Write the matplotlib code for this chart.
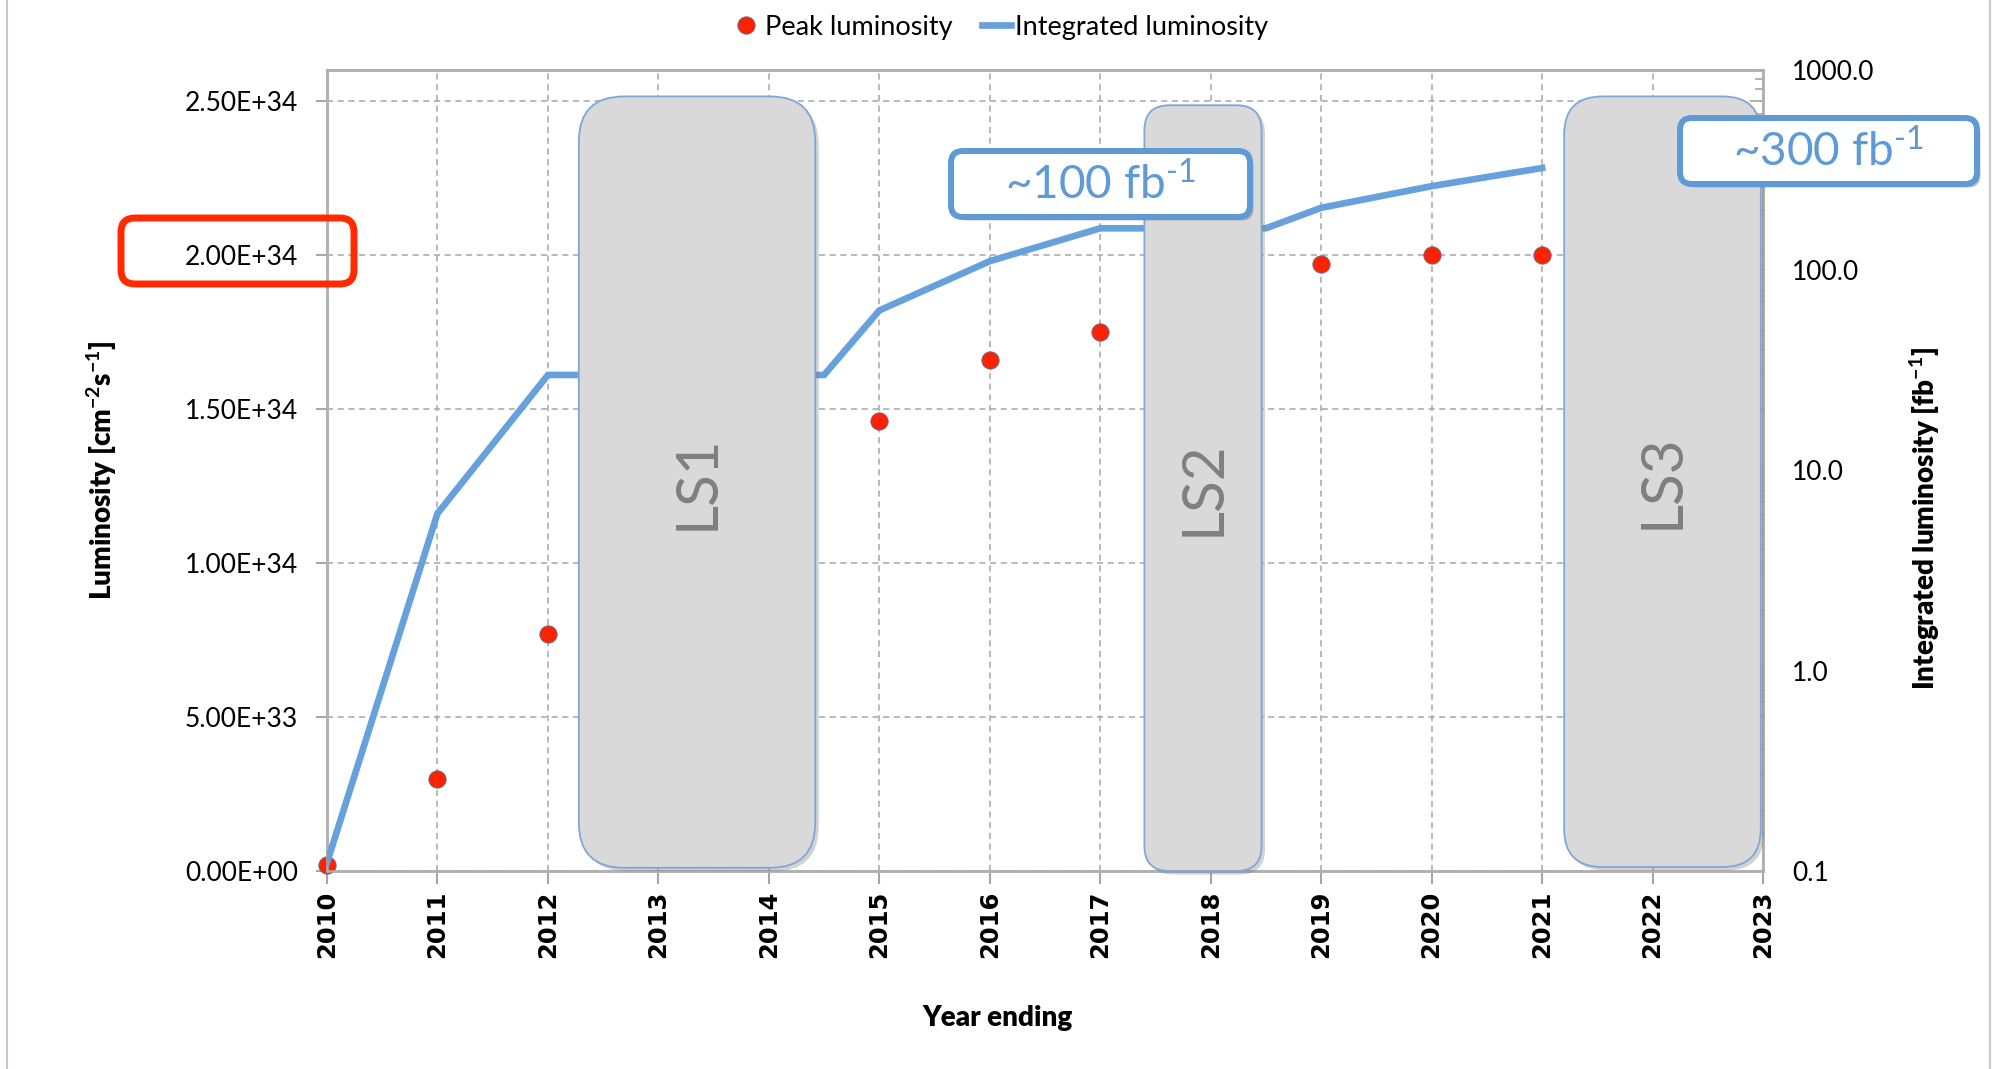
import matplotlib
matplotlib.use("Agg")
import matplotlib.pyplot as plt
from matplotlib.patches import FancyBboxPatch
from matplotlib.lines import Line2D
from matplotlib.transforms import IdentityTransform
from matplotlib.ticker import FixedLocator, FuncFormatter, LogLocator, NullFormatter
import matplotlib.patheffects as pe

# ---------------------------------------------------------------- data
# Peak luminosity reached by the end of each year [cm^-2 s^-1]
peak_years = [2010, 2011, 2012, 2015, 2016, 2017, 2019, 2020, 2021]
peak_lumi = [2.1e32, 3.0e33, 7.7e33, 1.46e34, 1.66e34, 1.75e34, 1.97e34, 2.0e34, 2.0e34]

# Cumulative integrated luminosity [fb^-1]
int_years = [2010, 2011, 2012, 2014.5, 2015, 2016, 2017, 2018.5, 2019, 2020, 2021]
int_lumi = [0.11, 6.1, 30, 30, 63, 111, 162, 162, 205, 263, 324]

# Long shutdown periods (fractional years)
shutdown_names = ["LS1", "LS2", "LS3"]
shutdown_start = [2012.28, 2017.40, 2021.20]
shutdown_end = [2014.42, 2018.46, 2022.98]

year_ticks = list(range(2010, 2024))
left_ticks = [0, 5e33, 1e34, 1.5e34, 2e34, 2.5e34]
right_ticks = [0.1, 1, 10, 100, 1000]

callout_texts = [r"~100 fb$^{\text{-1}}$", r"~300 fb$^{\text{-1}}$"]

# ---------------------------------------------------------------- style
W, H = 1993, 1069
DPI = 100
FONT = "Lato"
GRAY = "#a6a6a6"
BLUE = "#67a1dc"
RED = "#ff2200"
CALLOUT = "#5d9ad6"

plt.rcParams["font.family"] = [FONT, "DejaVu Sans"]
plt.rcParams["mathtext.fontset"] = "custom"
plt.rcParams["mathtext.rm"] = FONT
plt.rcParams["mathtext.it"] = FONT + ":italic"
plt.rcParams["mathtext.bf"] = FONT + ":bold"

fig = plt.figure(figsize=(W / DPI, H / DPI), dpi=DPI)
ax = fig.add_axes([327 / W, 1 - 871 / H, 1436 / W, 801 / H])
ax2 = ax.twinx()

# ---------------------------------------------------------------- left axis: peak luminosity
ax.plot(peak_years, peak_lumi, ls="none", marker="o", ms=12.5,
        mfc=RED, mec="#5a6e9a", mew=0.6, zorder=5, clip_on=False)
ax.set_xlim(2010, 2023)
ax.set_ylim(0, 2.6e34)
ax.xaxis.set_major_locator(FixedLocator(year_ticks))
ax.set_xticklabels([str(y) for y in year_ticks], rotation=90,
                   fontfamily="DejaVu Sans", fontweight="bold", fontsize=17.5)
ax.yaxis.set_major_locator(FixedLocator(left_ticks))
ax.yaxis.set_major_formatter(FuncFormatter(lambda v, p: f"{v:.2E}"))
ax.tick_params(axis="y", direction="out", length=8, width=1.5, color=GRAY,
               pad=13, labelsize=19)
ax.tick_params(axis="x", direction="out", length=9, width=1.5, color=GRAY, pad=5)
ax.grid(True, color=GRAY, linestyle=(0, (4, 3)), linewidth=1.1)
for s in ax.spines.values():
    s.set_color("#b0b0b0")
    s.set_linewidth(1.8)

ax.set_ylabel(r"Luminosity [cm$^{\mathbf{-2}}$s$^{\mathbf{-1}}$]",
              fontsize=20, fontweight="heavy")
ax.yaxis.set_label_coords(-0.1445, 0.5)
ax.set_xlabel("Year ending", fontsize=20, fontweight="heavy")
ax.xaxis.set_label_coords(0.467, -0.167)

# ---------------------------------------------------------------- right axis: integrated luminosity
ax2.plot(int_years, int_lumi, color=BLUE, lw=4.8, solid_joinstyle="miter", zorder=3)
ax2.set_yscale("log")
ax2.set_ylim(0.1, 1000)
ax2.yaxis.set_major_locator(FixedLocator(right_ticks))
ax2.yaxis.set_major_formatter(FuncFormatter(lambda v, p: f"{v:.1f}"))
ax2.yaxis.set_minor_locator(LogLocator(base=10, subs=range(2, 10)))
ax2.yaxis.set_minor_formatter(NullFormatter())
ax2.tick_params(axis="y", which="both", direction="in", length=6, width=1.2,
                color=GRAY, pad=21, labelsize=19)
for s in ax2.spines.values():
    s.set_color("#b0b0b0")
    s.set_linewidth(1.8)
ax2.set_ylabel(r"Integrated luminosity [fb$^{\mathbf{-1}}$]",
               fontsize=20, fontweight="heavy", rotation=90)
ax2.yaxis.set_label_coords(1.1005, 0.44)

# ---------------------------------------------------------------- shutdown blocks
box_top = [0.967, 0.956, 0.967]
box_bottom = [0.004, 0.0, 0.005]
box_radius = [45, 25, 38]
shadow = [pe.SimplePatchShadow(offset=(2.5, -2.5), shadow_rgbFace="#7f7f7f", alpha=0.35),
          pe.Normal()]

for name, x0, x1, t, b, r in zip(shutdown_names, shutdown_start, shutdown_end,
                                 box_top, box_bottom, box_radius):
    px0 = ax.transData.transform((x0, 0))[0]
    px1 = ax.transData.transform((x1, 0))[0]
    py0 = ax.transAxes.transform((0, b))[1]
    py1 = ax.transAxes.transform((0, t))[1]
    patch = FancyBboxPatch((px0, py0), px1 - px0, py1 - py0,
                           boxstyle=f"round,pad=0,rounding_size={r}",
                           transform=IdentityTransform(),
                           fc="#d9d9d9", ec="#7ea7d8", lw=1.3, zorder=2)
    patch.set_path_effects(shadow)
    fig.add_artist(patch)
    fig.text((px0 + px1) / 2 / W, (py0 + py1) / 2 / H, name, rotation=90,
             ha="center", va="center", fontsize=42, color="#7f7f7f",
             fontfamily=FONT, zorder=3)


# ---------------------------------------------------------------- callouts
def pixel_box(x0, y0, x1, y1, r, ec, lw, fc, with_shadow=True):
    """Rounded box given in image pixels measured from the top-left corner."""
    p = FancyBboxPatch((x0, H - y1), x1 - x0, y1 - y0,
                       boxstyle=f"round,pad=0,rounding_size={r}",
                       transform=IdentityTransform(), fc=fc, ec=ec, lw=lw, zorder=4)
    if with_shadow:
        p.set_path_effects([pe.SimplePatchShadow(offset=(2.5, -2.5),
                                                 shadow_rgbFace="#555555", alpha=0.35),
                            pe.Normal()])
    fig.add_artist(p)


callout_boxes = [(951, 151, 1250, 217), (1680, 118, 1977, 184)]
for (x0, y0, x1, y1), txt in zip(callout_boxes, callout_texts):
    pixel_box(x0, y0, x1, y1, 12, CALLOUT, 4.3, "white")
    fig.text((x0 + x1) / 2 / W, 1 - (y0 + y1) / 2 / H, txt, ha="center", va="center",
             fontsize=33, color=CALLOUT, fontfamily=FONT, zorder=5)

# highlight around the 2.00E+34 tick label
pixel_box(121, 218, 354, 284, 14, "#ff2a00", 5.0, "none", with_shadow=False)

# ---------------------------------------------------------------- legend
handles = [Line2D([], [], ls="none", marker="o", ms=12.5, mfc=RED, mec="#5a6e9a", mew=0.6),
           Line2D([], [], color=BLUE, lw=4.8)]
fig.legend(handles, ["Peak luminosity", "Integrated luminosity"], loc="center",
           bbox_to_anchor=(1000 / W, 1 - 27 / H), ncol=2, frameon=False,
           handlelength=1.05, handletextpad=0.15, columnspacing=1.1, fontsize=19.5)

# page edges
for xe in (7, 1990):
    fig.add_artist(Line2D([xe / W, xe / W], [0, 1], color="#c8c8c8", lw=1.5,
                          transform=fig.transFigure))

fig.savefig("out.png", dpi=DPI, facecolor="white")
